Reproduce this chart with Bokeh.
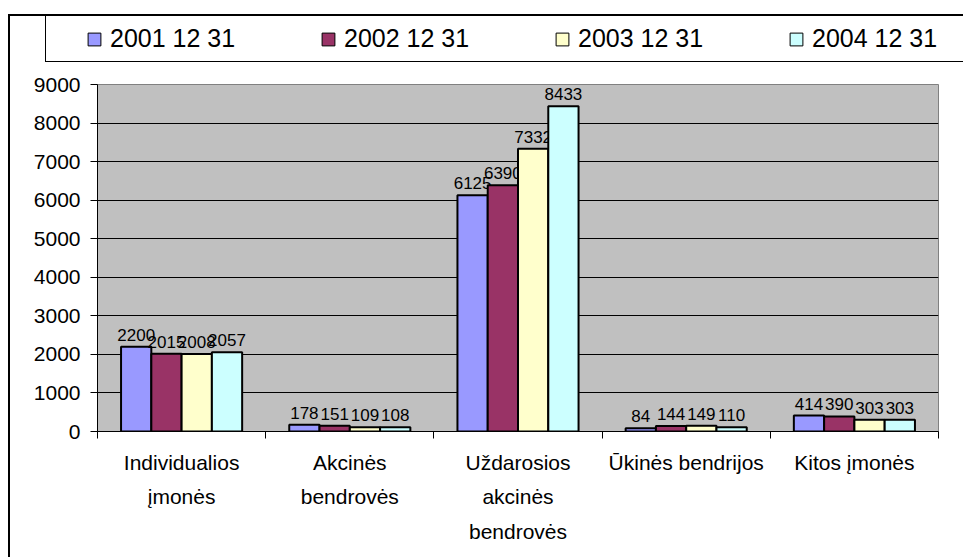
from bokeh.plotting import figure
from bokeh.layouts import column
from bokeh.models import (Range1d, FixedTicker, Legend, LegendItem,
                          SingleIntervalTicker, ColumnDataSource)
from bokeh.embed import file_html
from bokeh.resources import INLINE
from bokeh.core.properties import value

categories = ["Individualios\nįmonės", "Akcinės\nbendrovės", "Uždarosios\nakcinės\nbendrovės",
              "Ūkinės bendrijos", "Kitos įmonės"]
series_names = ["2001 12 31", "2002 12 31", "2003 12 31", "2004 12 31"]
v2001 = [2200, 178, 6125, 84, 414]
v2002 = [2015, 151, 6390, 144, 390]
v2003 = [2008, 109, 7332, 149, 303]
v2004 = [2057, 108, 8433, 110, 303]
series_values = [v2001, v2002, v2003, v2004]
colors = ["#9999FF", "#993366", "#FFFFCC", "#CCFFFF"]

FONT = "Liberation Sans"
n = len(categories)
bar_w = 0.18
offsets = [-0.27, -0.09, 0.09, 0.27]

# ---------- legend strip (its left and bottom edges are CSS borders) ----------
LW, LH = 917, 45
lf = figure(width=LW, height=LH, output_backend="svg", toolbar_location=None,
            x_range=Range1d(0, 1), y_range=Range1d(0, 1),
            x_axis_type=None, y_axis_type=None,
            min_border_left=0, min_border_right=0, min_border_top=0, min_border_bottom=0,
            styles={"margin-left": "35px", "border-left": "1px solid black",
                    "border-bottom": "1px solid black"})
lf.frame_width = LW
lf.frame_height = LH
lf.outline_line_color = None
lf.xgrid.visible = False
lf.ygrid.visible = False
lf.background_fill_color = "white"
lf.border_fill_color = "white"
leg_renderers = [lf.vbar(x=[-100], top=[-100], bottom=[-200], width=1, fill_color=colors[j],
                         line_color="black", line_width=1) for j in range(4)]
legend = Legend(items=[LegendItem(label=series_names[j], renderers=[leg_renderers[j]])
                       for j in range(4)],
                orientation="horizontal", location=(40, 9),
                glyph_width=16, glyph_height=16, label_standoff=8, label_width=210,
                spacing=0, padding=0, margin=0, border_line_alpha=0,
                background_fill_alpha=0, label_text_color="black",
                label_text_font=FONT, label_text_font_size="25px", label_height=25)
lf.add_layout(legend, "center")

# ---------- main chart ----------
p = figure(width=953, height=495, output_backend="svg", toolbar_location=None,
           x_range=Range1d(0, n), y_range=Range1d(0, 9000),
           min_border_left=87, min_border_right=25, min_border_top=22, min_border_bottom=126)
p.frame_width = 841
p.frame_height = 347
p.background_fill_color = "#C0C0C0"
p.border_fill_color = "white"
p.outline_line_color = "#808080"
p.outline_line_width = 1

for j, vals in enumerate(series_values):
    xs = [i + 0.5 + offsets[j] for i in range(n)]
    src = ColumnDataSource(dict(x=xs, top=vals, lab=[str(v) for v in vals]))
    p.vbar(x="x", top="top", width=bar_w, bottom=0, source=src,
           fill_color=colors[j], line_color="black", line_width=2)
    p.text(x="x", y="top", text="lab", source=src, text_align="center",
           text_baseline="bottom", y_offset=-6, text_font=value(FONT),
           text_font_size="17px", text_color="black")

p.xgrid.visible = False
p.ygrid.grid_line_color = "black"
p.ygrid.grid_line_width = 1
p.ygrid.ticker = SingleIntervalTicker(interval=1000)

p.yaxis.ticker = SingleIntervalTicker(interval=1000)
p.yaxis.axis_line_color = "black"
p.yaxis.major_tick_line_color = "black"
p.yaxis.major_tick_out = 7
p.yaxis.major_tick_in = 0
p.yaxis.minor_tick_line_color = None
p.yaxis.major_label_text_font = FONT
p.yaxis.major_label_text_font_size = "21px"
p.yaxis.major_label_text_color = "black"
p.yaxis.major_label_standoff = 10

p.xaxis.ticker = FixedTicker(ticks=[i + 0.5 for i in range(n)], minor_ticks=list(range(n + 1)))
p.xaxis.major_label_overrides = {i + 0.5: c for i, c in enumerate(categories)}
p.xaxis.axis_line_color = "black"
p.xaxis.major_tick_out = 0
p.xaxis.major_tick_in = 0
p.xaxis.minor_tick_out = 7
p.xaxis.minor_tick_in = 0
p.xaxis.minor_tick_line_color = "black"
p.xaxis.major_label_text_font = FONT
p.xaxis.major_label_text_font_size = "21px"
p.xaxis.major_label_text_color = "black"
p.xaxis.major_label_text_line_height = 1.5
p.xaxis.major_label_standoff = 12
p.xaxis.major_label_orientation = "horizontal"

layout = column(lf, p, spacing=0,
                styles={"margin-left": "8px", "margin-top": "14px",
                        "border-left": "2px solid black", "border-top": "2px solid black"})

open("out.html", "w").write(file_html(layout, INLINE))
